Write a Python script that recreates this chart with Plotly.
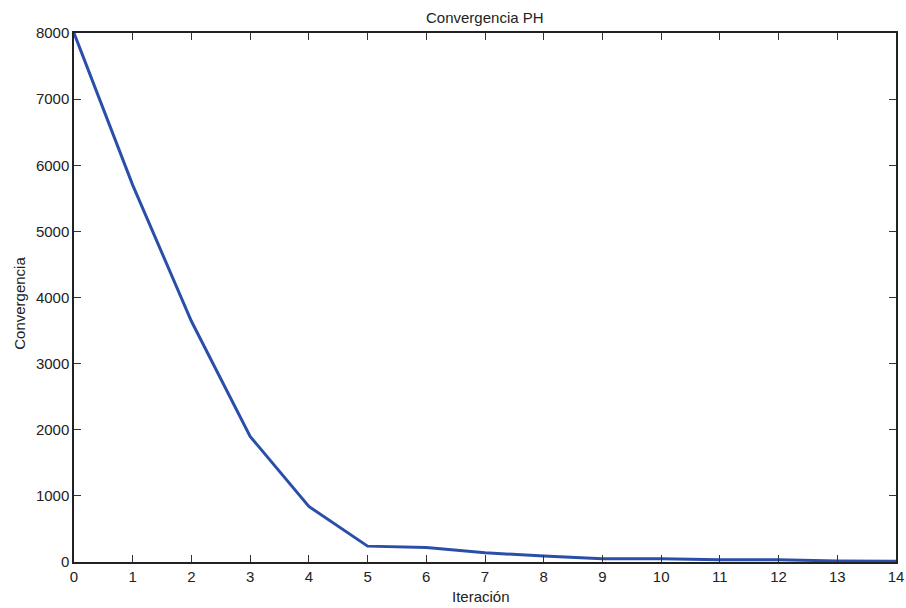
import plotly.graph_objects as go

iteracion = list(range(15))
convergencia = [8000, 5700, 3640, 1900, 840, 240, 220, 140, 90, 50, 50, 35, 35, 15, 10]
x_ticks = list(range(15))
y_ticks = [0, 1000, 2000, 3000, 4000, 5000, 6000, 7000, 8000]

FONT = "Liberation Sans, Arial"
TXT = "#222"

fig = go.Figure()
fig.add_trace(go.Scatter(x=iteracion, y=convergencia, mode="lines",
                         line=dict(color="#2b4fa8", width=3)))

axis_common = dict(showgrid=False, zeroline=False, showline=True, linecolor="#222",
                   linewidth=1.5, mirror="allticks", ticks="inside", ticklen=7,
                   tickcolor="#333", tickwidth=1.2, automargin=False,
                   tickfont=dict(family=FONT, size=15, color=TXT))

fig.update_layout(
    width=906, height=608,
    margin=dict(l=74, r=10, t=33, b=46),
    paper_bgcolor="white", plot_bgcolor="white",
    showlegend=False,
    xaxis=dict(range=[0, 14], tickvals=x_ticks, **axis_common),
    yaxis=dict(range=[0, 8000], tickvals=y_ticks, **axis_common),
    annotations=[
        dict(text="Convergencia PH", xref="paper", yref="paper", x=0.5, y=1.030,
             xanchor="center", yanchor="middle", showarrow=False,
             font=dict(family=FONT, size=15, color=TXT)),
        dict(text="Iteración", xref="paper", yref="paper", x=0.495, y=-0.066,
             xanchor="center", yanchor="middle", showarrow=False,
             font=dict(family=FONT, size=15, color=TXT)),
        dict(text="Convergencia", xref="paper", yref="paper", x=-0.0657, y=0.49,
             xanchor="center", yanchor="middle", showarrow=False, textangle=-90,
             font=dict(family=FONT, size=15, color=TXT)),
    ],
)

fig.write_html("out.html", config={"displayModeBar": False},
               post_script="document.body.style.margin='0';")
